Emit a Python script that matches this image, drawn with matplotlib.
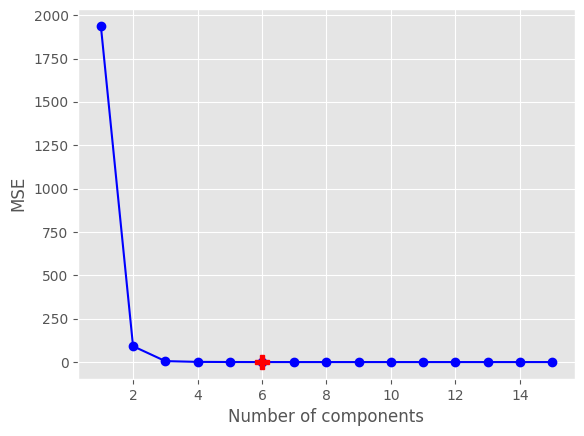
import matplotlib
matplotlib.use("Agg")
import matplotlib.pyplot as plt

plt.style.use("ggplot")

components = [1, 2, 3, 4, 5, 6, 7, 8, 9, 10, 11, 12, 13, 14, 15]
mse = [1940, 92, 6, 1.5, 0.8, 0.5, 0.5, 0.5, 0.5, 0.5, 0.5, 0.5, 0.5, 0.5, 0.5]
best_idx = 5

fig, ax = plt.subplots(figsize=(5.84, 4.36), dpi=100)
fig.subplots_adjust(left=0.134, right=0.984, top=0.98, bottom=0.131)
ax.plot(components, mse, "-o", color="blue")
ax.plot(components[best_idx], mse[best_idx], "P", color="red", ms=10)
ax.set_xlabel("Number of components")
ax.set_ylabel("MSE")
fig.savefig("out.png")
